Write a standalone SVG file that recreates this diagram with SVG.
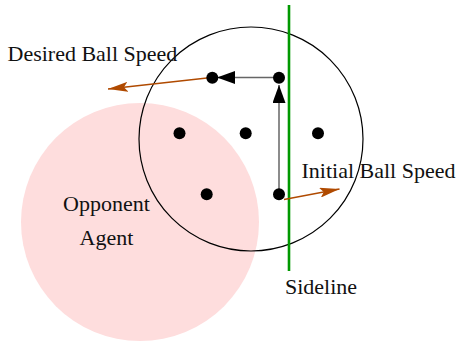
<svg xmlns="http://www.w3.org/2000/svg" width="457" height="345" viewBox="0 0 457 345">
  <style>
    .label { font-family: 'Liberation Serif', 'Times New Roman', Times, 'DejaVu Serif', serif; font-size: 22px; fill: #111; }
    .dot { fill: #000; }
    .path { stroke: #666; stroke-width: 1.5; fill: none; }
    .speed { stroke: #b04a00; stroke-width: 1.3; fill: none; }
  </style>
  <defs>
    <marker id="headBlack" viewBox="0 0 18 13" refX="18" refY="6.5" markerWidth="18" markerHeight="13" markerUnits="userSpaceOnUse" orient="auto">
      <path d="M0,0 L18,6.5 L0,13 Z" fill="#000"/>
    </marker>
    <marker id="headBrown" viewBox="0 0 20 10" refX="20" refY="5" markerWidth="20" markerHeight="10" markerUnits="userSpaceOnUse" orient="auto">
      <path d="M0,0 L20,5 L0,10 L4,5 Z" fill="#b04a00"/>
    </marker>
  </defs>

  <!-- opponent agent zone -->
  <g id="opponent">
    <circle cx="140" cy="222" r="119" fill="#fedddd"/>
    <text class="label" x="106.5" y="211" text-anchor="middle">Opponent</text>
    <text class="label" x="106.5" y="244.5" text-anchor="middle">Agent</text>
  </g>

  <!-- reachable region -->
  <g id="region">
    <circle cx="251" cy="139" r="112" fill="none" stroke="#000" stroke-width="1.2"/>
  </g>

  <!-- sideline -->
  <g id="sideline">
    <line x1="289" y1="5" x2="289" y2="271" stroke="#009900" stroke-width="2.6"/>
    <text class="label" x="285" y="294">Sideline</text>
  </g>

  <!-- connectors -->
  <g id="connectors">
    <line class="path" x1="279" y1="194" x2="279" y2="85" marker-end="url(#headBlack)"/>
    <line class="path" x1="279" y1="77.5" x2="217" y2="77.5" marker-end="url(#headBlack)"/>
    <line class="speed" x1="207" y1="78" x2="108" y2="89" marker-end="url(#headBrown)"/>
    <line class="speed" x1="284" y1="199.5" x2="339.5" y2="189" marker-end="url(#headBrown)"/>
  </g>

  <!-- positions -->
  <g id="positions">
    <circle class="dot" cx="212.3" cy="77.7" r="6"/>
    <circle class="dot" cx="279" cy="77.7" r="6"/>
    <circle class="dot" cx="179.5" cy="133.3" r="6"/>
    <circle class="dot" cx="245.7" cy="133.3" r="6"/>
    <circle class="dot" cx="318" cy="133.3" r="6"/>
    <circle class="dot" cx="206.7" cy="194.3" r="6"/>
    <circle class="dot" cx="279" cy="194.3" r="6"/>
  </g>

  <!-- speed labels -->
  <g id="labels">
    <text class="label" x="7.5" y="60.5">Desired Ball Speed</text>
    <text class="label" x="301.5" y="177.5">Initial Ball Speed</text>
  </g>
</svg>
